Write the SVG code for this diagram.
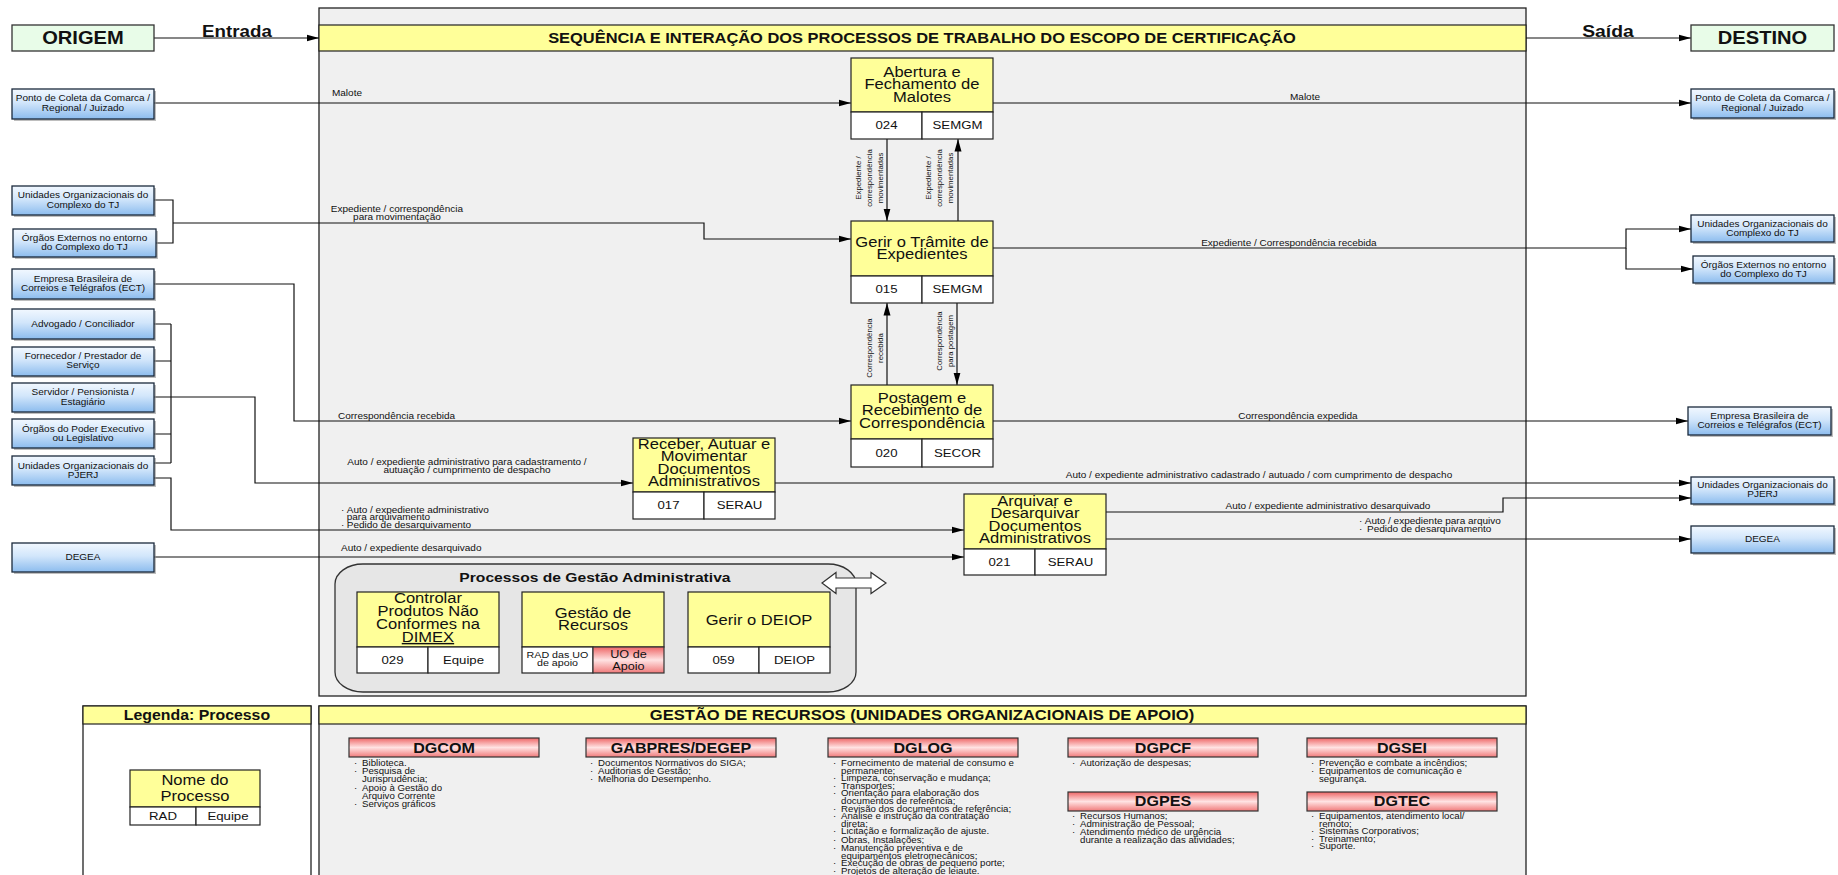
<svg xmlns="http://www.w3.org/2000/svg" width="1838" height="875" viewBox="0 0 1838 875">
<defs>
<linearGradient id="gBlue" x1="0" y1="0" x2="0" y2="1">
<stop offset="0" stop-color="#F2F8FF"/><stop offset="0.45" stop-color="#D2E6FB"/><stop offset="1" stop-color="#8CBCEE"/>
</linearGradient>
<linearGradient id="gRed" x1="0" y1="0" x2="0" y2="1">
<stop offset="0" stop-color="#EE6666"/><stop offset="0.5" stop-color="#FFE3E3"/><stop offset="1" stop-color="#F07A7A"/>
</linearGradient>
<marker id="ah" markerUnits="userSpaceOnUse" markerWidth="13" markerHeight="8" refX="12.5" refY="4" orient="auto"><path d="M0,0.5 L12.5,4 L0,7.5 z" fill="#000"/></marker>
<style>
text { font-family: "Liberation Sans", Arial, Helvetica, sans-serif; fill: #111; }
text:not(.v) { transform-box: fill-box; transform-origin: center; transform: scaleX(1.15); }
text.l { transform-origin: left center; }
.m { text-anchor: middle; }
.b { font-weight: bold; }
.bx { fill: url(#gBlue); stroke: #1B2A3C; stroke-width: 1.3; }
.sh { fill: #888; opacity: 0.55; }
.yel { fill: #FFFF99; stroke: #222; stroke-width: 1.2; }
.wh { fill: #FFFFFF; stroke: #222; stroke-width: 1.2; }
.red { fill: url(#gRed); stroke: #333; stroke-width: 1.2; }
.grn { fill: #E8FCE8; stroke: #333; stroke-width: 1.3; }
.ln { fill: none; stroke: #111; stroke-width: 1.2; }
.ar { marker-end: url(#ah); }
.f-box { font-size: 8.7px; }
.f-lab { font-size: 8.7px; }
.f-li { font-size: 8.4px; }
.f-pt { font-size: 14.4px; }
.f-cd { font-size: 11.5px; }
.f-dg { font-size: 14px; font-weight: bold; }
.v { font-size: 7.8px; text-anchor: middle; }
</style>
</defs>

<g id="frames">
<rect id="main-panel" x="319" y="8" width="1207" height="688" fill="#F0F0F0" stroke="#222" stroke-width="1.3"/>
<rect x="319" y="25" width="1207" height="26" class="yel"/>
<text class="m b" x="922" y="43" font-size="14.3">SEQUÊNCIA E INTERAÇÃO DOS PROCESSOS DE TRABALHO DO ESCOPO DE CERTIFICAÇÃO</text>
<rect id="legend-panel" x="83" y="706" width="228" height="180" fill="#FFFFFF" stroke="#222" stroke-width="1.3"/>
<rect x="83" y="706" width="228" height="18" class="yel"/>
<text class="m b" x="197" y="720" font-size="13.8">Legenda: Processo</text>
<rect id="gestao-panel" x="319" y="706" width="1207" height="180" fill="#F0F0F0" stroke="#222" stroke-width="1.3"/>
<rect x="319" y="706" width="1207" height="18" class="yel"/>
<text class="m b" x="922" y="720.5" font-size="14.4">GESTÃO DE RECURSOS (UNIDADES ORGANIZACIONAIS DE APOIO)</text>
</g>

<g id="admin-group">
<rect x="335" y="564" width="521" height="128" rx="28" ry="20" fill="#E6E6E6" stroke="#333" stroke-width="1.3"/>
<text class="m b" x="595" y="582" font-size="13.6">Processos de Gestão Administrativa</text>
<polygon points="822,583 836,572.5 836,578 871,578 871,572.5 886,583 871,593.5 871,588 836,588 836,593.5" fill="#FFFFFF" stroke="#333" stroke-width="1.2"/>
</g>

<g id="connectors">
<path class="ln ar" d="M154,38 H319"/>
<path class="ln ar" d="M1526,38 H1691"/>
<path class="ln ar" d="M154,103 H851"/>
<path class="ln ar" d="M993,103 H1691"/>
<path class="ln" d="M154,200 H173 V243 H156"/>
<path class="ln ar" d="M173,223 H704 V239 H851"/>
<path class="ln ar" d="M993,248 H1626 V229 H1691"/>
<path class="ln ar" d="M1626,248 V269 H1693"/>
<path class="ln ar" d="M154,284 H294 V421 H851"/>
<path class="ln ar" d="M993,421 H1688"/>
<path class="ln" d="M154,324 H171 M154,361 H171 M154,434 H171 M154,463 H171 M171,324 V463"/>
<path class="ln ar" d="M154,397 H255 V483 H633"/>
<path class="ln ar" d="M154,478 H171 V530 H964"/>
<path class="ln ar" d="M154,557 H964"/>
<path class="ln ar" d="M775,483 H1691"/>
<path class="ln ar" d="M1106,512 H1503 V498 H1691"/>
<path class="ln ar" d="M1106,539 H1691"/>
<path class="ln ar" d="M887,139 V221"/>
<path class="ln ar" d="M958,221 V139"/>
<path class="ln ar" d="M887,385 V303"/>
<path class="ln ar" d="M957,303 V385"/>

<text class="b m" x="237" y="37" font-size="16.3">Entrada</text>
<text class="b m" x="1608" y="37" font-size="16.8">Saída</text>
<text class="f-lab l" x="332" y="96.5">Malote</text>
<text class="f-lab m" x="1305" y="100.5">Malote</text>
<text class="f-lab m"><tspan x="397" y="212">Expediente / correspondência</tspan><tspan x="397" y="220">para movimentação</tspan></text>
<text class="f-lab m" x="1289" y="246">Expediente / Correspondência recebida</text>
<text class="f-lab l" x="338" y="419">Correspondência recebida</text>
<text class="f-lab m" x="1298" y="419">Correspondência expedida</text>
<text class="f-lab m"><tspan x="467" y="465">Auto / expediente administrativo para cadastramento /</tspan><tspan x="467" y="473">autuação / cumprimento de despacho</tspan></text>
<text class="f-lab l"><tspan x="341" y="513">·</tspan><tspan x="346">Auto / expediente administrativo</tspan><tspan x="346" y="520.5">para arquivamento</tspan><tspan x="341" y="528">·</tspan><tspan x="346">Pedido de desarquivamento</tspan></text>
<text class="f-lab l" x="341" y="551">Auto / expediente desarquivado</text>
<text class="f-lab m" x="1259" y="478">Auto / expediente administrativo cadastrado / autuado / com cumprimento de despacho</text>
<text class="f-lab m" x="1328" y="509.5">Auto / expediente administrativo desarquivado</text>
<text class="f-lab l"><tspan x="1359" y="524">·</tspan><tspan x="1364">Auto / expediente  para arquivo</tspan><tspan x="1359" y="532">·</tspan><tspan x="1366">Pedido de desarquivamento</tspan></text>
<text class="v" transform="translate(0,178) rotate(-90)"><tspan x="0" y="861">Expediente /</tspan><tspan x="0" y="872">correspondência</tspan><tspan x="0" y="883">movimentadas</tspan></text>
<text class="v" transform="translate(0,178) rotate(-90)"><tspan x="0" y="931">Expediente /</tspan><tspan x="0" y="942">correspondência</tspan><tspan x="0" y="952.5">movimentadas</tspan></text>
<text class="v" transform="translate(0,348) rotate(-90)"><tspan x="0" y="872">Correspondência</tspan><tspan x="0" y="882.5">recebida</tspan></text>
<text class="v" transform="translate(0,341) rotate(-90)"><tspan x="0" y="942">Correspondência</tspan><tspan x="0" y="952.5">para postagem</tspan></text>
</g>

<g id="nodes">
<g id="origem"><rect class="grn" x="12" y="25" width="142" height="26"/><text class="m b" x="83" y="44.5" font-size="17.5">ORIGEM</text></g>
<g id="destino"><rect class="grn" x="1691" y="25" width="143" height="26"/><text class="m b" x="1762.5" y="44.5" font-size="17.5">DESTINO</text></g>

<g id="src-ponto"><rect class="sh" x="14" y="91" width="142" height="30"/><rect class="bx" x="12" y="89" width="142" height="30"/><text class="f-box m"><tspan x="83" y="101.5">Ponto de Coleta da Comarca /</tspan><tspan x="83" y="111.5">Regional / Juizado</tspan></text></g>
<g id="src-unid-tj"><rect class="sh" x="14" y="188" width="142" height="29"/><rect class="bx" x="12" y="186" width="142" height="29"/><text class="f-box m"><tspan x="83" y="198.5">Unidades Organizacionais do</tspan><tspan x="83" y="208.5">Complexo do TJ</tspan></text></g>
<g id="src-orgaos-ext"><rect class="sh" x="15" y="231" width="143" height="28"/><rect class="bx" x="13" y="229" width="143" height="28"/><text class="f-box m"><tspan x="84.5" y="241">Órgãos Externos no entorno</tspan><tspan x="84.5" y="250.5">do Complexo do TJ</tspan></text></g>
<g id="src-ect"><rect class="sh" x="14" y="271" width="142" height="30"/><rect class="bx" x="12" y="269" width="142" height="30"/><text class="f-box m"><tspan x="83" y="282">Empresa Brasileira de</tspan><tspan x="83" y="291.5">Correios e Telégrafos (ECT)</tspan></text></g>
<g id="src-advogado"><rect class="sh" x="14" y="311" width="142" height="30"/><rect class="bx" x="12" y="309" width="142" height="30"/><text class="f-box m" x="83" y="327.5">Advogado / Conciliador</text></g>
<g id="src-fornecedor"><rect class="sh" x="14" y="349" width="142" height="29"/><rect class="bx" x="12" y="347" width="142" height="29"/><text class="f-box m"><tspan x="83" y="359">Fornecedor / Prestador de</tspan><tspan x="83" y="368.5">Serviço</tspan></text></g>
<g id="src-servidor"><rect class="sh" x="14" y="385" width="142" height="29"/><rect class="bx" x="12" y="383" width="142" height="29"/><text class="f-box m"><tspan x="83" y="395.5">Servidor / Pensionista /</tspan><tspan x="83" y="405">Estagiário</tspan></text></g>
<g id="src-poder"><rect class="sh" x="14" y="421" width="142" height="29"/><rect class="bx" x="12" y="419" width="142" height="29"/><text class="f-box m"><tspan x="83" y="432">Órgãos do Poder Executivo</tspan><tspan x="83" y="441.5">ou Legislativo</tspan></text></g>
<g id="src-unid-pjerj"><rect class="sh" x="14" y="458" width="142" height="29"/><rect class="bx" x="12" y="456" width="142" height="29"/><text class="f-box m"><tspan x="83" y="469">Unidades Organizacionais do</tspan><tspan x="83" y="478.5">PJERJ</tspan></text></g>
<g id="src-degea"><rect class="sh" x="14" y="545" width="142" height="29"/><rect class="bx" x="12" y="543" width="142" height="29"/><text class="f-box m" x="83" y="560.5">DEGEA</text></g>

<g id="dst-ponto"><rect class="sh" x="1693" y="91" width="143" height="29"/><rect class="bx" x="1691" y="89" width="143" height="29"/><text class="f-box m"><tspan x="1762.5" y="101.5">Ponto de Coleta da Comarca /</tspan><tspan x="1762.5" y="111.5">Regional / Juizado</tspan></text></g>
<g id="dst-unid-tj"><rect class="sh" x="1693" y="217" width="143" height="27"/><rect class="bx" x="1691" y="215" width="143" height="27"/><text class="f-box m"><tspan x="1762.5" y="227.5">Unidades Organizacionais do</tspan><tspan x="1762.5" y="236.5">Complexo do TJ</tspan></text></g>
<g id="dst-orgaos-ext"><rect class="sh" x="1695" y="258" width="141" height="27"/><rect class="bx" x="1693" y="256" width="141" height="27"/><text class="f-box m"><tspan x="1763.5" y="268">Órgãos Externos no entorno</tspan><tspan x="1763.5" y="277.5">do Complexo do TJ</tspan></text></g>
<g id="dst-ect"><rect class="sh" x="1690" y="409" width="143" height="28"/><rect class="bx" x="1688" y="407" width="143" height="28"/><text class="f-box m"><tspan x="1759.5" y="419">Empresa Brasileira de</tspan><tspan x="1759.5" y="428.5">Correios e Telégrafos (ECT)</tspan></text></g>
<g id="dst-unid-pjerj"><rect class="sh" x="1693" y="479" width="143" height="27"/><rect class="bx" x="1691" y="477" width="143" height="27"/><text class="f-box m"><tspan x="1762.5" y="488">Unidades Organizacionais do</tspan><tspan x="1762.5" y="497.5">PJERJ</tspan></text></g>
<g id="dst-degea"><rect class="sh" x="1693" y="528" width="143" height="27"/><rect class="bx" x="1691" y="526" width="143" height="27"/><text class="f-box m" x="1762.5" y="542.5">DEGEA</text></g>

<g id="p024"><rect class="yel" x="851" y="58" width="142" height="54"/><rect class="wh" x="851" y="112" width="71" height="27"/><rect class="wh" x="922" y="112" width="71" height="27"/>
<text class="f-pt m"><tspan x="922" y="77">Abertura e</tspan><tspan x="922" y="89.5">Fechamento de</tspan><tspan x="922" y="102">Malotes</tspan></text>
<text class="f-cd m" x="886.5" y="129.5">024</text><text class="f-cd m" x="957.5" y="129.5">SEMGM</text></g>

<g id="p015"><rect class="yel" x="851" y="221" width="142" height="55"/><rect class="wh" x="851" y="276" width="71" height="27"/><rect class="wh" x="922" y="276" width="71" height="27"/>
<text class="f-pt m"><tspan x="922" y="247">Gerir o Trâmite de</tspan><tspan x="922" y="259.5">Expedientes</tspan></text>
<text class="f-cd m" x="886.5" y="293.5">015</text><text class="f-cd m" x="957.5" y="293.5">SEMGM</text></g>

<g id="p020"><rect class="yel" x="851" y="385" width="142" height="54"/><rect class="wh" x="851" y="439" width="71" height="28"/><rect class="wh" x="922" y="439" width="71" height="28"/>
<text class="f-pt m"><tspan x="922" y="403">Postagem e</tspan><tspan x="922" y="415.5">Recebimento de</tspan><tspan x="922" y="428">Correspondência</tspan></text>
<text class="f-cd m" x="886.5" y="457">020</text><text class="f-cd m" x="957.5" y="457">SECOR</text></g>

<g id="p017"><rect class="yel" x="633" y="438" width="142" height="54"/><rect class="wh" x="633" y="492" width="71" height="27"/><rect class="wh" x="704" y="492" width="71" height="27"/>
<text class="f-pt m"><tspan x="704" y="449">Receber, Autuar e</tspan><tspan x="704" y="461.5">Movimentar</tspan><tspan x="704" y="474">Documentos</tspan><tspan x="704" y="486.5">Administrativos</tspan></text>
<text class="f-cd m" x="668.5" y="509.5">017</text><text class="f-cd m" x="739.5" y="509.5">SERAU</text></g>

<g id="p021"><rect class="yel" x="964" y="494" width="142" height="55"/><rect class="wh" x="964" y="549" width="71" height="26"/><rect class="wh" x="1035" y="549" width="71" height="26"/>
<text class="f-pt m"><tspan x="1035" y="506">Arquivar e</tspan><tspan x="1035" y="518.5">Desarquivar</tspan><tspan x="1035" y="531">Documentos</tspan><tspan x="1035" y="543.5">Administrativos</tspan></text>
<text class="f-cd m" x="999.5" y="566">021</text><text class="f-cd m" x="1070.5" y="566">SERAU</text></g>

<g id="p029"><rect class="yel" x="357" y="592" width="142" height="55"/><rect class="wh" x="357" y="647" width="71" height="26"/><rect class="wh" x="428" y="647" width="71" height="26"/>
<text class="f-pt m"><tspan x="428" y="603">Controlar</tspan><tspan x="428" y="616">Produtos Não</tspan><tspan x="428" y="629">Conformes na</tspan><tspan x="428" y="642" text-decoration="underline">DIMEX</tspan></text>
<text class="f-cd m" x="392.5" y="664">029</text><text class="f-cd m" x="463.5" y="664">Equipe</text></g>

<g id="p-recursos"><rect class="yel" x="522" y="592" width="142" height="55"/><rect class="wh" x="522" y="647" width="71" height="26"/><rect class="red" x="593" y="647" width="71" height="26"/>
<text class="f-pt m"><tspan x="593" y="618">Gestão de</tspan><tspan x="593" y="630.5">Recursos</tspan></text>
<text class="m" font-size="9.3"><tspan x="557.5" y="658.5">RAD das UO</tspan><tspan x="557.5" y="666.5">de apoio</tspan></text>
<text class="m" font-size="11"><tspan x="628.5" y="658">UO de</tspan><tspan x="628.5" y="670">Apoio</tspan></text></g>

<g id="p059"><rect class="yel" x="688" y="592" width="142" height="55"/><rect class="wh" x="688" y="647" width="71" height="26"/><rect class="wh" x="759" y="647" width="71" height="26"/>
<text class="f-pt m" x="759" y="625">Gerir o DEIOP</text>
<text class="f-cd m" x="723.5" y="664">059</text><text class="f-cd m" x="794.5" y="664">DEIOP</text></g>

<g id="legend-process"><rect class="yel" x="130" y="770" width="130" height="37"/><rect class="wh" x="130" y="807" width="66" height="18"/><rect class="wh" x="196" y="807" width="64" height="18"/>
<text class="f-pt m"><tspan x="195" y="785">Nome do</tspan><tspan x="195" y="801">Processo</tspan></text>
<text class="f-cd m" x="163" y="820.5">RAD</text><text class="f-cd m" x="228" y="820.5">Equipe</text></g>

<g id="dgcom"><rect class="red" x="349" y="738" width="190" height="19"/><text class="f-dg m" x="444" y="753">DGCOM</text>
<text class="f-li l"><tspan x="354" y="766">·</tspan><tspan x="361">Biblioteca.</tspan><tspan x="354" y="774.2">·</tspan><tspan x="361">Pesquisa de</tspan><tspan x="361" y="782.4">Jurisprudência;</tspan><tspan x="354" y="790.6">·</tspan><tspan x="361">Apoio à Gestão do</tspan><tspan x="361" y="798.8">Arquivo Corrente</tspan><tspan x="354" y="807">·</tspan><tspan x="361">Serviços gráficos</tspan></text></g>

<g id="gabpres"><rect class="red" x="586" y="738" width="190" height="19"/><text class="f-dg m" x="681" y="753">GABPRES/DEGEP</text>
<text class="f-li l"><tspan x="590" y="766">·</tspan><tspan x="597">Documentos Normativos do SIGA;</tspan><tspan x="590" y="774">·</tspan><tspan x="597">Auditorias de Gestão;</tspan><tspan x="590" y="782">·</tspan><tspan x="597">Melhoria do Desempenho.</tspan></text></g>

<g id="dglog"><rect class="red" x="828" y="738" width="190" height="19"/><text class="f-dg m" x="923" y="753">DGLOG</text>
<text class="f-li l"><tspan x="833" y="766">·</tspan><tspan x="840">Fornecimento de material de consumo e</tspan><tspan x="840" y="773.6">permanente;</tspan><tspan x="833" y="781.2">·</tspan><tspan x="840">Limpeza, conservação e mudança;</tspan><tspan x="833" y="788.8">·</tspan><tspan x="840">Transportes;</tspan><tspan x="833" y="796.4">·</tspan><tspan x="840">Orientação para elaboração dos</tspan><tspan x="840" y="804">documentos de referência;</tspan><tspan x="833" y="811.6">·</tspan><tspan x="840">Revisão dos documentos de referência;</tspan><tspan x="833" y="819.2">·</tspan><tspan x="840">Análise e instrução da contratação</tspan><tspan x="840" y="826.8">direta;</tspan><tspan x="833" y="834.4">·</tspan><tspan x="840">Licitação e formalização de ajuste.</tspan><tspan x="833" y="843.5">·</tspan><tspan x="840">Obras, Instalações;</tspan><tspan x="833" y="851.1">·</tspan><tspan x="840">Manutenção preventiva e de</tspan><tspan x="840" y="858.7">equipamentos eletromecânicos;</tspan><tspan x="833" y="866.3">·</tspan><tspan x="840">Execução de obras de pequeno porte;</tspan><tspan x="833" y="873.9">·</tspan><tspan x="840">Projetos de alteração de leiaute.</tspan></text></g>

<g id="dgpcf"><rect class="red" x="1068" y="738" width="190" height="19"/><text class="f-dg m" x="1163" y="753">DGPCF</text>
<text class="f-li l"><tspan x="1072" y="766">·</tspan><tspan x="1079">Autorização de despesas;</tspan></text></g>

<g id="dgpes"><rect class="red" x="1068" y="792" width="190" height="19"/><text class="f-dg m" x="1163" y="806.5">DGPES</text>
<text class="f-li l"><tspan x="1072" y="819">·</tspan><tspan x="1079">Recursos Humanos;</tspan><tspan x="1072" y="827">·</tspan><tspan x="1079">Administração de Pessoal;</tspan><tspan x="1072" y="835">·</tspan><tspan x="1079">Atendimento médico de urgência</tspan><tspan x="1079" y="843">durante a realização das atividades;</tspan></text></g>

<g id="dgsei"><rect class="red" x="1307" y="738" width="190" height="19"/><text class="f-dg m" x="1402" y="753">DGSEI</text>
<text class="f-li l"><tspan x="1311" y="766">·</tspan><tspan x="1318">Prevenção e combate a incêndios;</tspan><tspan x="1311" y="774">·</tspan><tspan x="1318">Equipamentos de comunicação e</tspan><tspan x="1318" y="782">segurança.</tspan></text></g>

<g id="dgtec"><rect class="red" x="1307" y="792" width="190" height="19"/><text class="f-dg m" x="1402" y="806.5">DGTEC</text>
<text class="f-li l"><tspan x="1311" y="819">·</tspan><tspan x="1318">Equipamentos, atendimento local/</tspan><tspan x="1318" y="826.6">remoto;</tspan><tspan x="1311" y="834.2">·</tspan><tspan x="1318">Sistemas Corporativos;</tspan><tspan x="1311" y="841.8">·</tspan><tspan x="1318">Treinamento;</tspan><tspan x="1311" y="849.4">·</tspan><tspan x="1318">Suporte.</tspan></text></g>
</g>
</svg>
